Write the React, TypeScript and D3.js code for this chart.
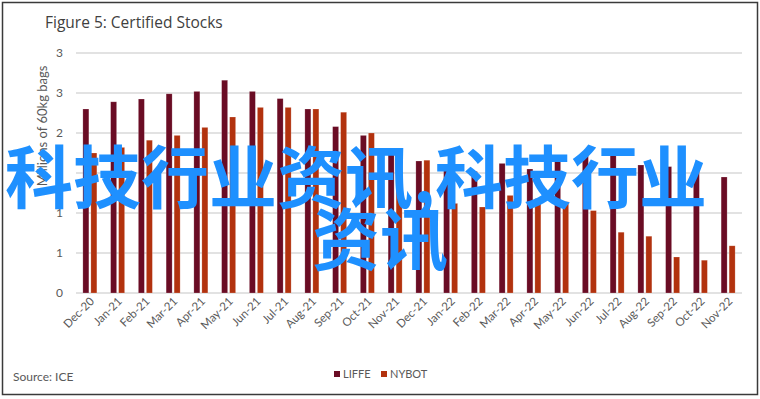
import React from "react";
import * as d3 from "d3";

const months = [
  "Dec-20", "Jan-21", "Feb-21", "Mar-21", "Apr-21", "May-21", "Jun-21", "Jul-21",
  "Aug-21", "Sep-21", "Oct-21", "Nov-21", "Dec-21", "Jan-22", "Feb-22", "Mar-22",
  "Apr-22", "May-22", "Jun-22", "Jul-22", "Aug-22", "Sep-22", "Oct-22", "Nov-22",
];
const liffe = [
  2.3, 2.39, 2.425, 2.49, 2.52, 2.66, 2.52, 2.43, 2.3, 2.08, 1.97, 1.78,
  1.65, 1.56, 1.52, 1.62, 1.55, 1.7, 1.74, 1.78, 1.6, 1.58, 1.55, 1.45,
];
const nybot = [
  1.75, 1.82, 1.91, 1.97, 2.07, 2.2, 2.32, 2.32, 2.3, 2.26, 2.0, 1.7,
  1.66, 1.12, 1.075, 1.22, 1.18, 1.14, 1.03, 0.76, 0.71, 0.45, 0.41, 0.59,
];
const yTicks = [0, 0.5, 1, 1.5, 2, 2.5, 3];
const yTickLabels = ["0", "1", "1", "2", "2", "3", "3"];
const seriesNames = ["LIFFE", "NYBOT"];
const seriesColors = ["#6A0C24", "#B2320E"];
const watermarkLines = ["科技行业资讯,科技行业", "资讯"];

const W = 760;
const H = 399;
const plot = { left: 76, right: 742, top: 53, bottom: 293 };
const font = "Lato, 'Open Sans', sans-serif";
const grey = "#595959";

export default function App() {
  const x = d3.scaleBand<string>().domain(months).range([plot.left, plot.right]).padding(0);
  const y = d3.scaleLinear().domain([0, 3]).range([plot.bottom, plot.top]);
  const barW = 6;
  const gap = 2;
  const series = [liffe, nybot];

  return (
    <svg
      width={W}
      height={H}
      style={{ position: "fixed", left: 0, top: 0, background: "#fff" }}
      fontFamily={font}
    >
      <rect x={0} y={0} width={W} height={H} fill="#fff" />
      <rect x={2.5} y={2.5} width={755} height={392} fill="none" stroke="#3a3a3a" strokeWidth={1.5} />
      <text x={45} y={28} fontSize={15.5} fill="#404040" fontFamily="'Open Sans', sans-serif">
        Figure 5: Certified Stocks
      </text>

      {yTicks.map((t, i) => (
        <g key={t}>
          <line x1={plot.left} x2={plot.right} y1={y(t)} y2={y(t)} stroke="#d9d9d9" strokeWidth={1.5} />
          <text x={63} y={y(t) + 4} textAnchor="end" fontSize={12} fill={grey}>
            {yTickLabels[i]}
          </text>
        </g>
      ))}

      <text
        transform={`translate(47,126) rotate(-90)`}
        textAnchor="middle"
        fontSize={13}
        fill={grey}
      >
        Millions of 60kg bags
      </text>

      {months.map((m, i) => {
        const cx = (x(m) as number) + x.bandwidth() / 2;
        return (
          <g key={m}>
            {series.map((s, k) => {
              const bx = cx - barW - gap / 2 + k * (barW + gap);
              return (
                <rect
                  key={k}
                  x={bx}
                  y={y(s[i])}
                  width={barW}
                  height={y(0) - y(s[i])}
                  fill={seriesColors[k]}
                  stroke="#ffffff"
                  strokeOpacity={0.35}
                  strokeWidth={0.6}
                />
              );
            })}
            <text
              transform={`translate(${cx + 5},${plot.bottom + 9}) rotate(-45)`}
              textAnchor="end"
              fontSize={11.5}
              fill={grey}
            >
              {m}
            </text>
          </g>
        );
      })}

      <text x={13} y={381} fontSize={12} fill={grey}>Source: ICE</text>
      {seriesNames.map((n, k) => {
        const lx = [334, 381][k];
        return (
          <g key={n}>
            <rect x={lx} y={371} width={6} height={6} fill={seriesColors[k]} />
            <text x={lx + 9} y={378} fontSize={11} fill={grey}>{n}</text>
          </g>
        );
      })}

      <g fill="#1E90FF" fontFamily="'Noto Sans CJK SC', sans-serif" fontWeight={700} fontSize={68}>
        <text x={5} y={203}>{watermarkLines[0]}</text>
        <text x={312} y={265}>{watermarkLines[1]}</text>
      </g>
    </svg>
  );
}
